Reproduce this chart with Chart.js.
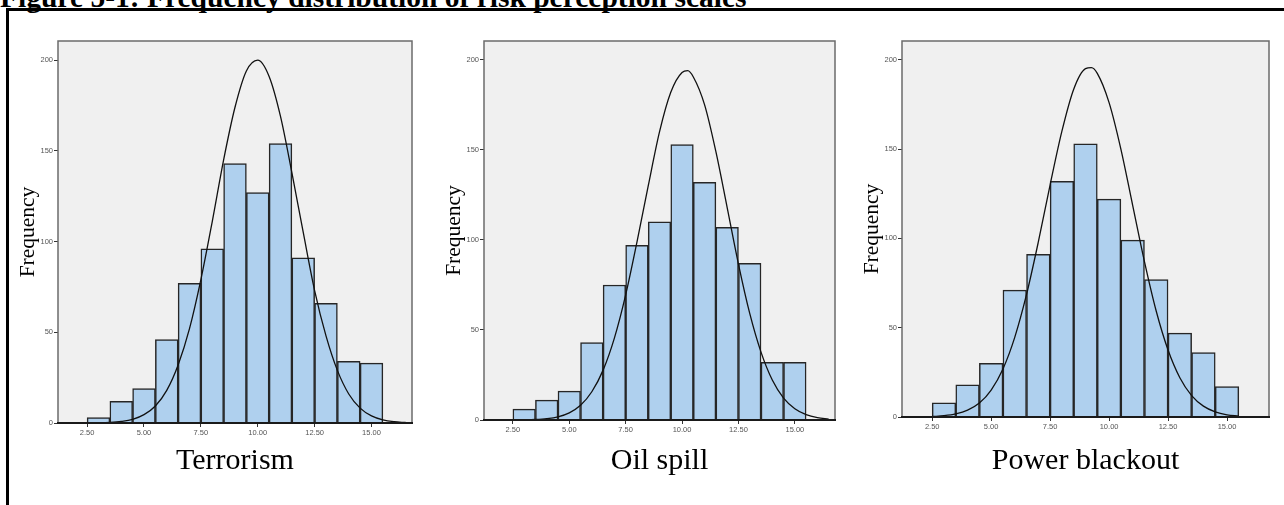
<!DOCTYPE html>
<html>
<head>
<meta charset="utf-8">
<script src="https://cdn.jsdelivr.net/npm/chart.js@4.4.1/dist/chart.umd.min.js"></script>
<style>
body{margin:0;background:#fff;width:1284px;height:505px;overflow:hidden;position:relative;}
#title{position:absolute;left:0;top:-17px;font:bold 29.5px "Liberation Serif","Times New Roman",serif;line-height:29.5px;white-space:nowrap;color:#000;}
#frame{position:absolute;left:6px;top:8px;width:1300px;height:600px;border:3px solid #000;}
.panel{position:absolute;}
</style>
</head>
<body>
<div id="title">Figure 5-1: Frequency distribution of risk perception scales</div>
<div id="frame"></div>
<div class="panel" id="p1"><canvas id="c1"></canvas></div>
<div class="panel" id="p2"><canvas id="c2"></canvas></div>
<div class="panel" id="p3"><canvas id="c3"></canvas></div>
<script>
// DATA

const binMids = [3,4,5,6,7,8,9,10,11,12,13,14,15];

const terrorismFreq = [3,12,19,46,77,96,143,127,154,91,66,34,33];
const oilSpillFreq = [6,11,16,43,75,97,110,153,132,107,87,32,32];
const blackoutFreq = [8,18,30,71,91,132,153,122,99,77,47,36,17];

// normal curves
const terrorismCurveX = [2.5,3,3.5,4,4.5,5,5.5,6,6.5,7,7.5,8,8.5,9,9.5,10,10.5,11,11.5,12,12.5,13,13.5,14,14.5,15,15.5,16,16.5];
const terrorismCurveY = [0.04,0.12,0.33,0.85,2,4.6,9.4,18,32,52,79,111,145,174,194,200,191,169,138,105,73,48,29,16,8.2,3.9,1.7,0.7,0.27];

const oilSpillCurveX = [1.5,2,2.5,3,3.5,4,4.5,5,5.5,6,6.5,7,7.5,8,8.5,9,9.5,10,10.25,10.5,11,11.5,12,12.5,13,13.5,14,14.5,15,15.5,16,16.5];
const oilSpillCurveY = [0,0.01,0.04,0.11,0.3,0.77,1.8,4,8.2,15.7,27.7,45.5,69.5,98.8,130,160,182,193,194,190.5,175,149,118,86.6,59.2,37.7,22.2,12.2,6.3,3,1.3,0.5];

const blackoutCurveX = [2.5,3,3.5,4,4.5,5,5.5,6,6.5,7,7.5,8,8.5,9,9.25,9.5,10,10.5,11,11.5,12,12.5,13,13.5,14,14.5,15,15.5];
const blackoutCurveY = [0.27,0.71,1.7,3.8,7.8,15.1,26.9,44.6,68.6,98,130,160,183.5,195,195.6,192.4,176,150,118.5,87,59.2,37.5,22,12,6.1,2.9,1.25,0.5];

const xTicks = [2.5,5,7.5,10,12.5,15];
const yTicks = [0,50,100,150,200];

// PLOT BACKGROUND + FRAME

const plotFrame = {
id:"plotFrame",
beforeDatasetsDraw(chart){
const a = chart.chartArea, ctx = chart.ctx;
ctx.save();
ctx.fillStyle = "#f0f0f0";
ctx.fillRect(a.left, a.top, a.right-a.left, a.bottom-a.top);
ctx.restore();
},
afterDatasetsDraw(chart){
const a = chart.chartArea, ctx = chart.ctx;
ctx.save();
ctx.strokeStyle = "#6b6b6b";
ctx.lineWidth = 1.5;
ctx.strokeRect(a.left, a.top, a.right-a.left, a.bottom-a.top);
ctx.strokeStyle = "#1a1a1a";
ctx.lineWidth = 2;
ctx.beginPath();
ctx.moveTo(a.left-1, a.bottom);
ctx.lineTo(a.right+1, a.bottom);
ctx.stroke();
ctx.restore();
}
};

// PANEL

function makePanel(n, freq, cx, cy, label, box){

let wrap = document.getElementById("p"+n);
wrap.style.left = box.left+"px";
wrap.style.top = box.top+"px";
wrap.style.width = box.width+"px";
wrap.style.height = box.height+"px";

let tickFont = {family:"Liberation Sans, Arial, sans-serif", size:7.5};

new Chart(
document.getElementById("c"+n),
{
type:"bar",
data:{
datasets:[{
type:"line",
data:cx.map((x,i)=>({x:x, y:cy[i]})),
borderColor:"#111",
borderWidth:1.3,
pointRadius:0,
cubicInterpolationMode:"monotone",
fill:false,
order:0
},{
type:"bar",
data:binMids.map((x,i)=>({x:x, y:freq[i]})),
backgroundColor:"#afd0ee",
borderColor:"#262626",
borderWidth:1.5,
barPercentage:1,
categoryPercentage:1,
order:1
}]
},
options:{
responsive:true,
maintainAspectRatio:false,
animation:false,
events:[],
layout:{padding:{left:0, top:11, right:box.padRight, bottom:0}},
plugins:{legend:{display:false}, tooltip:{enabled:false}},
scales:{
x:{
type:"linear",
offset:false,
min:1.22,
max:16.78,
afterBuildTicks(s){ s.ticks = xTicks.map(v=>({value:v})); },
afterFit(s){ s.height = box.xAxisH; },
ticks:{
font:tickFont,
color:"#555",
padding:1,
maxRotation:0,
autoSkip:false,
callback:v=>v.toFixed(2)
},
grid:{offset:false, drawOnChartArea:false, drawTicks:true, tickLength:4, color:"#333"},
border:{display:false},
title:{
display:true,
text:label,
font:{family:"Liberation Serif, Times New Roman, serif", size:30},
color:"#000",
padding:{top:0, bottom:4}
}
},
y:{
min:0,
max:210.5,
afterBuildTicks(s){ s.ticks = yTicks.map(v=>({value:v})); },
afterFit(s){ s.width = 46; },
ticks:{font:tickFont, color:"#555", padding:1},
grid:{drawOnChartArea:false, drawTicks:true, tickLength:4, color:"#333"},
border:{display:false},
title:{
display:true,
text:"Frequency",
font:{family:"Liberation Serif, Times New Roman, serif", size:21.5},
color:"#000",
padding:{top:3, bottom:0}
}
}
}
},
plugins:[plotFrame]
}
);
}

makePanel(1, terrorismFreq, terrorismCurveX, terrorismCurveY, "Terrorism",
{left:12, top:30, width:410, height:453, padRight:10, xAxisH:60});

makePanel(2, oilSpillFreq, oilSpillCurveX, oilSpillCurveY, "Oil spill",
{left:438, top:30, width:407, height:453, padRight:10, xAxisH:63});

makePanel(3, blackoutFreq, blackoutCurveX, blackoutCurveY, "Power blackout",
{left:856, top:30, width:423, height:453, padRight:10, xAxisH:66});
</script>
</body>
</html>
